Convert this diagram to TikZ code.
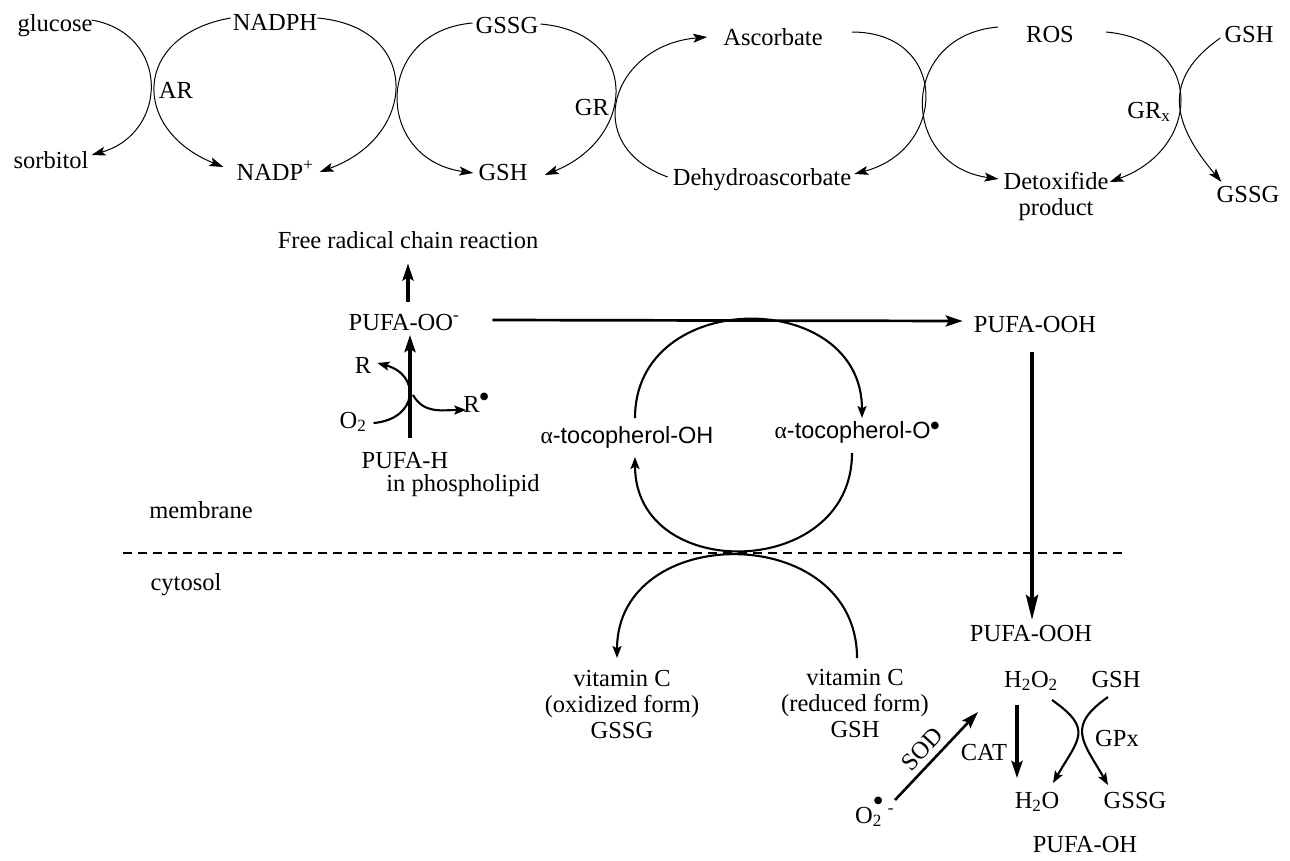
\documentclass[tikz,border=0pt]{standalone}
\usepackage{fontspec}
\setmainfont{Liberation Serif}
\newfontfamily\sansf{Liberation Sans}
\newfontfamily\djv{DejaVu Sans}
\usetikzlibrary{arrows.meta}
\newcommand{\radot}[1]{\raisebox{#1}{\djv\fontsize{10}{10}\selectfont ●}}
\begin{document}
\begin{tikzpicture}[x=1pt,y=1pt,
  txt/.style={inner sep=0pt, anchor=base, font=\fontsize{24.5}{26}\selectfont},
  stxt/.style={inner sep=0pt, anchor=base, font=\sansf\fontsize{23.5}{26}\selectfont},
  thinl/.style={line width=1pt},
  medl/.style={line width=2.1pt},
  thickl/.style={line width=3.4pt},
  tipT/.style={-{Stealth[length=14pt,width=9pt,inset=3pt]}},
  tipM/.style={-{Stealth[length=12pt,width=9pt,inset=2.5pt]}},
  tipB/.style={-{Stealth[length=17pt,width=11pt,inset=3pt]}},
  tipL/.style={-{Stealth[length=25pt,width=12pt,inset=4pt]}}
]
\useasboundingbox (0,0) rectangle (1290,-860);

% ---------- top row ----------
\node[txt] (glu) at (55,-31) {glucose};
\node[txt] (nadph) at (275,-30) {NADPH};
\node[txt] (ar) at (176,-98) {AR};
\node[txt] (sorb) at (51,-168) {sorbitol};
\node[txt] (nadp) at (275,-180) {NADP\textsuperscript{+}};
\node[txt] (gssgA) at (507,-33) {GSSG};
\node[txt] (gshA) at (503,-180) {GSH};
\node[txt] (gr) at (592,-115) {GR};
\node[txt] (asc) at (773,-45) {Ascorbate};
\node[txt] (dha) at (762,-185) {Dehydroascorbate};
\node[txt] (ros) at (1050,-42) {ROS};
\node[txt] (gshB) at (1249,-42) {GSH};
\node[txt] (grx) at (1149,-118) {GR\textsubscript{x}};
\node[txt, align=center] (detox) at (1056,-215) {Detoxifide\\product};
\node[txt] (gssgB) at (1248,-202) {GSSG};

\draw[thinl,tipT] ([shift={(-1,11)}]glu.base east) .. controls +(-10:80) and +(16:80) .. ([shift={(3,13)}]sorb.base east);
\draw[thinl,tipT] ([shift={(-2,12)}]nadph.base west) .. controls +(190:100) and +(158:100) .. ([shift={(-13,13)}]nadp.base west);
\draw[thinl,tipT] ([shift={(0,12)}]nadph.base east) .. controls +(-5:105) and +(20:105) .. ([shift={(6,8)}]nadp.base east);
\draw[thinl,tipT] ([shift={(-3,10)}]gssgA.base west) .. controls +(185:100) and +(172:100) .. ([shift={(-5,7)}]gshA.base west);
\draw[thinl,tipT] ([shift={(2,9)}]gssgA.base east) .. controls +(-5:100) and +(22:100) .. ([shift={(17,5)}]gshA.base east);
\draw[thinl,tipT] ([shift={(-5,8)}]dha.base west) .. controls +(160:95) and +(185:95) .. ([shift={(-16,8)}]asc.base west);
\draw[thinl,tipT] ([shift={(29,13)}]asc.base east) .. controls +(0:97) and +(15:97) .. ([shift={(3,11)}]dha.base east);
\draw[thinl,tipT] ([shift={(-28,15)}]ros.base west) .. controls +(185:100) and +(172:100) .. ([shift={(-5,36)}]detox.base west);
\draw[thinl,tipT] ([shift={(32,10)}]ros.base east) .. controls +(-5:99) and +(20:99) .. ([shift={(1,33)}]detox.base east);
\draw[thinl,tipT] ([shift={(-4,4)}]gshB.base west) .. controls +(215:74) and +(130:74) .. ([shift={(5,20)}]gssgB.base west);

% ---------- membrane part ----------
\node[txt] (frcr) at (408,-248) {Free radical chain reaction};
\node[txt] (puoo) at (404,-330) {PUFA-OO\textsuperscript{-}};
\node[txt] (rleft) at (363,-373) {R};
\node[txt] (rrad) at (476,-412) {R\radot{13pt}};
\node[txt] (o2a) at (353,-428) {O\textsubscript{2}};
\node[txt] (pufah) at (405,-468) {PUFA-H};
\node[txt] (phos) at (463,-491) {in phospholipid};
\node[txt] (mem) at (201,-518) {membrane};
\node[txt] (cyt) at (186,-590) {cytosol};
\node[txt] (pooh1) at (1035,-332) {PUFA-OOH};
\node[stxt] (toh) at (627,-443) {{\rmfamily α}-tocopherol-OH};
\node[stxt] (tor) at (857,-438) {{\rmfamily α}-tocopherol-O\radot{10pt}};

\draw[thickl,tipB] ([shift={(4,12)}]puoo.north) -- ([shift={(0,-15)}]frcr.south);
\draw[thickl,tipB] ([shift={(5,14)}]pufah.north) -- ([shift={(6,-5)}]puoo.base);
\draw[medl,tipM] ([shift={(7,5)}]o2a.base east) .. controls +(5:45) and +(-15:45) .. ([shift={(6,10)}]rleft.base east);
\coordinate (rr0) at (413,-395);
\draw[medl,tipM] (rr0) .. controls +(-60:22) and +(180:25) .. ([shift={(3,2)}]rrad.base west);
\draw[line width=2.7pt,tipB] ([shift={(33,10)}]puoo.base east) -- ([shift={(-11,11)}]pooh1.base west);

\draw[medl,tipM] ([shift={(8,25)}]toh.base) .. controls +(90:131) and +(90:131) .. ([shift={(5,20)}]tor.base);
\draw[medl,tipM] ([shift={(-5,-15)}]tor.base) .. controls +(-90:127) and +(-90:127) .. ([shift={(8,-14)}]toh.base);

\coordinate (dl) at (123,-553);
\coordinate (dr) at (1122,-553);
\draw[line width=1.8pt, dash pattern=on 9pt off 6pt] (dl) -- (dr);

% ---------- cytosol part ----------
\node[txt, align=center] (vox) at (622,-738) {vitamin C\\(oxidized form)\\GSSG};
\node[txt, align=center] (vred) at (855,-737) {vitamin C\\(reduced form)\\GSH};
\draw[medl,tipM] ([shift={(2,79)}]vred.base) .. controls +(90:137) and +(90:137) .. ([shift={(-5,80)}]vox.base);

\node[txt] (pooh2) at (1031,-641) {PUFA-OOH};
\draw[line width=3.8pt,tipL] ([shift={(-3,-20)}]pooh1.base) -- ([shift={(1,21)}]pooh2.base);

\node[txt] (h2o2) at (1031,-687) {H\textsubscript{2}O\textsubscript{2}};
\node[txt] (gshC) at (1116,-687) {GSH};
\node[txt] (cat) at (984,-760) {CAT};
\node[txt] (gpx) at (1117,-746) {GPx};
\node[txt] (h2o) at (1037,-808) {H\textsubscript{2}O};
\node[txt] (gssgC) at (1135,-808) {GSSG};
\node[txt] (pufaoh) at (1085,-852) {PUFA-OH};
\node[txt, anchor=base west] (o2r) at (855,-823) {O\rlap{\hspace{1pt}\radot{20pt}}\textsubscript{2}\hspace{6pt}\textsuperscript{-}};
\node[txt, anchor=center, rotate=47] (sod) at (922,-749) {SOD};

\draw[thickl,tipB] ([shift={(-14,-18)}]h2o2.base) -- ([shift={(-20,30)}]h2o.base);
\draw[medl,tipM] ([shift={(21,-13)}]h2o2.base) .. controls +(-35:51) and +(60:51) .. ([shift={(16,25)}]h2o.base);
\draw[medl,tipM] ([shift={(-8,-10)}]gshC.base) .. controls +(215:51) and +(120:51) .. ([shift={(-27,23)}]gssgC.base);
\draw[line width=2.6pt,tipB] ([shift={(40,23)}]o2r.base west) -- ([shift={(-53,-25)}]h2o2.base);
\end{tikzpicture}
\end{document}
